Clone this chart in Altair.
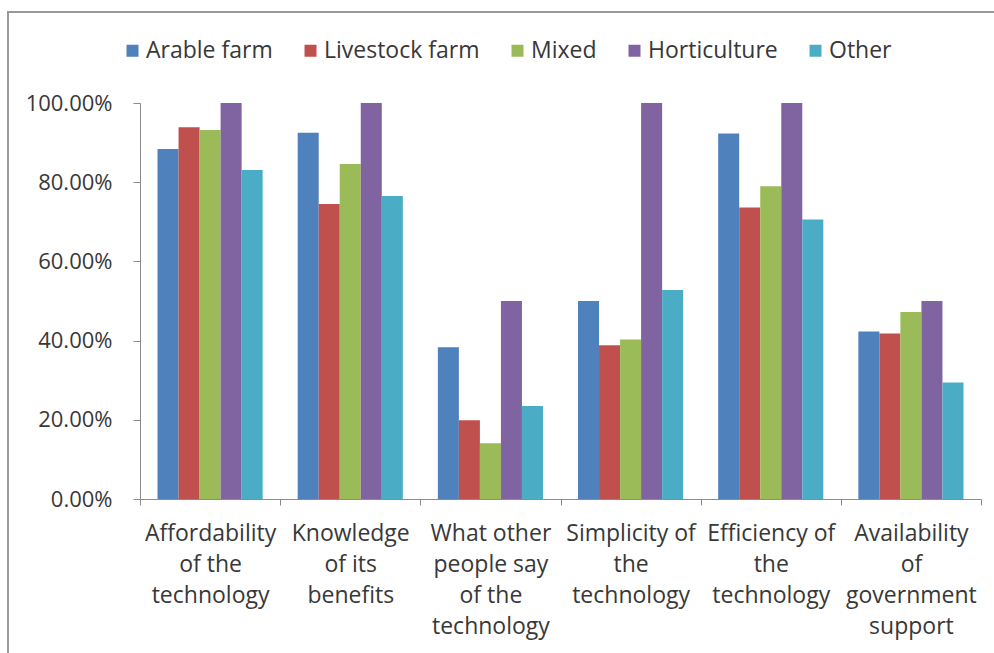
import altair as alt
import pandas as pd

# Factors influencing technology adoption, share of respondents by farm type
factors = [
    "Affordability|of the|technology",
    "Knowledge|of its|benefits",
    "What other|people say|of the|technology",
    "Simplicity of|the|technology",
    "Efficiency of|the|technology",
    "Availability|of|government|support",
]
farm_types = ["Arable farm", "Livestock farm", "Mixed", "Horticulture", "Other"]
colors = ["#4F81BD", "#C0504D", "#9BBB59", "#8064A2", "#4BACC6"]

arable = [0.884, 0.925, 0.383, 0.500, 0.923, 0.423]
livestock = [0.939, 0.745, 0.199, 0.388, 0.736, 0.418]
mixed = [0.932, 0.846, 0.141, 0.403, 0.790, 0.472]
horticulture = [1.000, 1.000, 0.500, 1.000, 1.000, 0.500]
other = [0.831, 0.765, 0.235, 0.528, 0.706, 0.294]

series = [arable, livestock, mixed, horticulture, other]
rows = []
for name, vals in zip(farm_types, series):
    for factor, v in zip(factors, vals):
        rows.append({"factor": factor, "farm": name, "share": v})
df = pd.DataFrame(rows)

FONT = "Open Sans"
TEXT = "#383838"
AXIS = "#8c8c8c"

bars = alt.Chart(df).mark_bar().encode(
    x=alt.X(
        "factor:N",
        sort=factors,
        scale=alt.Scale(paddingInner=0, paddingOuter=0),
        axis=alt.Axis(
            title=None,
            labelAngle=0,
            labelExpr="split(datum.label, '|')",
            labelFont=FONT,
            labelFontSize=23,
            labelColor=TEXT,
            labelLineHeight=31,
            labelPadding=17,
            labelBaseline="top",
            tickBand="extent",
            tickSize=6,
            tickColor=AXIS,
            domainColor=AXIS,
        ),
    ),
    xOffset=alt.XOffset(
        "farm:N",
        sort=farm_types,
        scale=alt.Scale(paddingInner=0, paddingOuter=0.833),
    ),
    y=alt.Y(
        "share:Q",
        scale=alt.Scale(domain=[0, 1], nice=False),
        axis=alt.Axis(
            title=None,
            values=[0, 0.2, 0.4, 0.6, 0.8, 1.0],
            format=".2%",
            grid=False,
            labelFont=FONT,
            labelFontSize=22,
            labelColor=TEXT,
            labelPadding=21,
            tickSize=7,
            tickColor=AXIS,
            domainColor=AXIS,
        ),
    ),
    color=alt.Color(
        "farm:N",
        sort=farm_types,
        scale=alt.Scale(domain=farm_types, range=colors),
        legend=alt.Legend(
            title=None,
            orient="none",
            direction="horizontal",
            legendX=-19,
            legendY=-64,
            symbolType="square",
            symbolSize=144,
            symbolStrokeWidth=0,
            labelFont=FONT,
            labelFontSize=23,
            labelColor=TEXT,
            labelOffset=2,
            columnPadding=26,
        ),
    ),
)

# Outer chart frame (top and left edges)
frame = alt.Chart(pd.DataFrame({"k": [0]})).mark_rect(
    fill=None, stroke="#999999", strokeWidth=2
).encode(
    x=alt.value(-132), x2=alt.value(900),
    y=alt.value(-91), y2=alt.value(600),
)

chart = (
    alt.layer(frame, bars)
    .properties(
        width=841,
        height=396,
        autosize=alt.AutoSizeParams(type="none"),
        padding={"left": 140, "top": 103, "right": 13, "bottom": 154},
        background="white",
    )
    .configure_view(stroke=None)
)

chart.save("out.html", embed_options={"renderer": "svg", "actions": False})
